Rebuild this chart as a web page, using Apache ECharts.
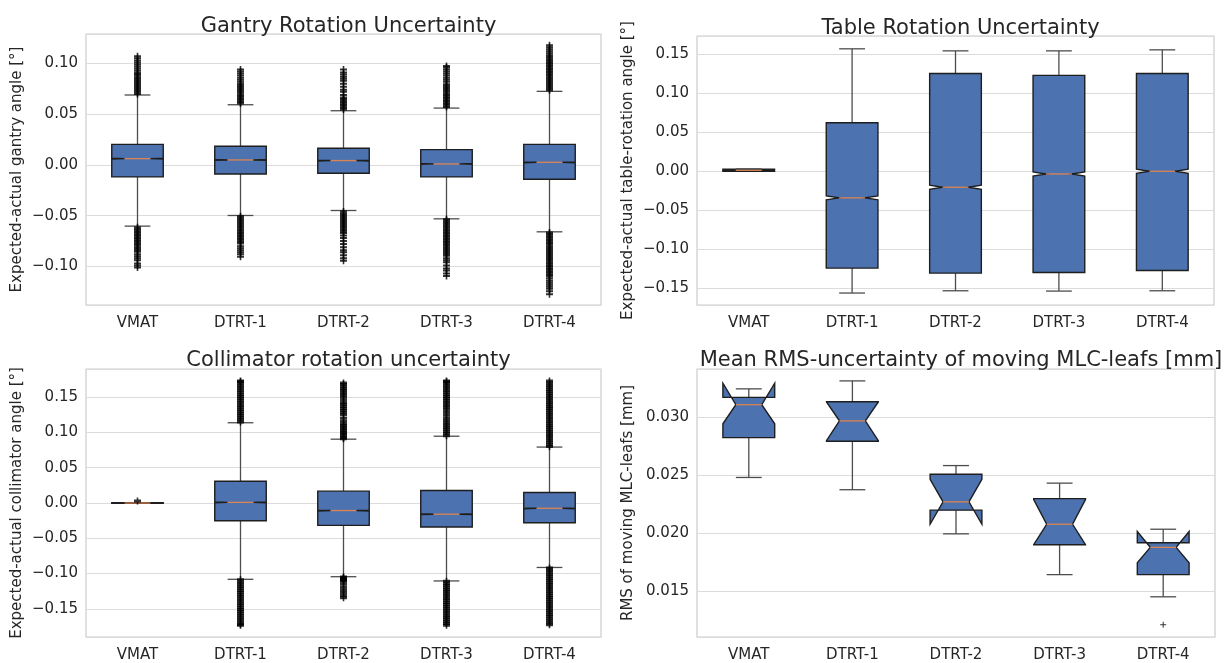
<!DOCTYPE html>
<html>
<head>
<meta charset="utf-8">
<script src="https://cdn.jsdelivr.net/npm/echarts@6.0.0/dist/echarts.min.js"></script>
<style>
  html, body { margin: 0; padding: 0; background: #fff; }
  #box { width: 1230px; height: 663px; }
</style>
</head>
<body>
<div id="box"></div>
<script>
// categories shared by the four panels
const categories = ['VMAT', 'DTRT-1', 'DTRT-2', 'DTRT-3', 'DTRT-4'];

// gantry rotation: whisker low, q1, median, q3, whisker high, notch low/high
const gantryLow = [-0.0603, -0.0498, -0.0449, -0.0531, -0.0659];
const gantryQ1 = [-0.0118, -0.0089, -0.0082, -0.0118, -0.0141];
const gantryMed = [0.0062, 0.0049, 0.0043, 0.0010, 0.0026];
const gantryQ3 = [0.0203, 0.0184, 0.0164, 0.0151, 0.0203];
const gantryHigh = [0.0689, 0.0593, 0.0534, 0.0560, 0.0725];
const gantryCiLo = [0.0058, 0.0045, 0.0039, 0.0006, 0.0022];
const gantryCiHi = [0.0066, 0.0053, 0.0047, 0.0014, 0.0030];
const gantryFliers = [
  [0.070, 0.0715, 0.073, 0.0745, 0.076, 0.0775, 0.079, 0.0805, 0.082, 0.0835, 0.085, 0.0865, 0.088, 0.0895, 0.091,
   0.093, 0.095, 0.097, 0.099, 0.101, 0.103, 0.105, 0.107,
   -0.0615, -0.063, -0.0645, -0.066, -0.0675, -0.069, -0.0705, -0.072, -0.0735, -0.075, -0.0765, -0.078, -0.0795, -0.081, -0.0825, -0.084, -0.0855,
   -0.088, -0.090, -0.092, -0.094, -0.097, -0.099, -0.101],
  [0.0605, 0.062, 0.0635, 0.065, 0.0665, 0.068, 0.0695, 0.071, 0.0725, 0.074, 0.0755, 0.077, 0.0785, 0.080,
   0.082, 0.084, 0.086, 0.088, 0.090, 0.092, 0.094,
   -0.0505, -0.052, -0.0535, -0.055, -0.0565, -0.058, -0.0595, -0.061, -0.0625, -0.064, -0.0655, -0.067, -0.0685, -0.070, -0.0715, -0.073, -0.0745, -0.076, -0.0775,
   -0.080, -0.082, -0.084, -0.086, -0.088, -0.0905],
  [0.0545, 0.056, 0.0575, 0.059, 0.0605, 0.062, 0.0635, 0.065, 0.0665,
   0.069, 0.072, 0.074, 0.077, 0.080, 0.083, 0.085, 0.087, 0.089, 0.091, 0.094,
   -0.046, -0.0475, -0.049, -0.0505, -0.052, -0.0535, -0.055, -0.0565, -0.058, -0.0595, -0.061, -0.0625, -0.064, -0.0655, -0.067,
   -0.0695, -0.072, -0.075, -0.078, -0.081, -0.084, -0.086, -0.089, -0.092, -0.0945],
  [0.057, 0.0585, 0.060, 0.0615, 0.063, 0.0645, 0.066, 0.0675, 0.069, 0.0705, 0.072, 0.0735, 0.075, 0.0765, 0.078, 0.0795,
   0.082, 0.084, 0.086, 0.088, 0.090, 0.092, 0.094, 0.096, 0.0975,
   -0.0535, -0.055, -0.0565, -0.058, -0.0595, -0.061, -0.0625, -0.064, -0.0655, -0.067, -0.0685, -0.070, -0.0715, -0.073, -0.0745,
   -0.076, -0.0775, -0.079, -0.0805, -0.082, -0.0835, -0.085, -0.0865, -0.088, -0.0895,
   -0.092, -0.094, -0.096, -0.099, -0.102, -0.104, -0.107, -0.1095],
  [0.0735, 0.075, 0.0765, 0.078, 0.0795, 0.081, 0.0825, 0.084, 0.0855, 0.087, 0.0885, 0.090, 0.0915, 0.093, 0.0945, 0.096,
   0.0975, 0.099, 0.1005, 0.102, 0.1035, 0.105, 0.1065, 0.108,
   0.110, 0.112, 0.114, 0.116, 0.118,
   -0.0665, -0.068, -0.0695, -0.071, -0.0725, -0.074, -0.0755, -0.077, -0.0785, -0.080, -0.0815, -0.083, -0.0845, -0.086, -0.0875,
   -0.089, -0.0905, -0.092, -0.0935, -0.095, -0.0965, -0.098, -0.0995, -0.101, -0.1025, -0.104, -0.1055, -0.107, -0.1085, -0.110,
   -0.112, -0.114, -0.116, -0.118, -0.120, -0.122, -0.1245, -0.1275]
];

// table rotation
const tableLow = [0.0000, -0.1557, -0.1528, -0.1532, -0.1528];
const tableQ1 = [0.0000, -0.1238, -0.1302, -0.1294, -0.1268];
const tableMed = [0.0013, -0.0340, -0.0204, -0.0034, 0.0000];
const tableQ3 = [0.0028, 0.0621, 0.1251, 0.1226, 0.1251];
const tableHigh = [0.0028, 0.1566, 0.1540, 0.1540, 0.1553];
const tableCiLo = [0.0011, -0.0365, -0.0230, -0.0060, -0.0026];
const tableCiHi = [0.0015, -0.0315, -0.0178, -0.0008, 0.0026];

// collimator rotation
const collLow = [-0.0005, -0.1082, -0.1045, -0.1105, -0.0914];
const collQ1 = [-0.0005, -0.0252, -0.0317, -0.0340, -0.0280];
const collMed = [0.0000, 0.0009, -0.0107, -0.0159, -0.0075];
const collQ3 = [0.0005, 0.0308, 0.0168, 0.0177, 0.0149];
const collHigh = [0.0005, 0.1138, 0.0905, 0.0947, 0.0793];
const collCiLo = [-0.0003, 0.0003, -0.0113, -0.0165, -0.0081];
const collCiHi = [0.0003, 0.0015, -0.0101, -0.0153, -0.0069];
const collFliers = [
  [0.0028],
  [0.115, 0.118, 0.121, 0.124, 0.127, 0.130, 0.133, 0.136, 0.139, 0.142, 0.145, 0.148, 0.151, 0.154, 0.157, 0.160, 0.163, 0.166, 0.169, 0.172, 0.173,
   -0.109, -0.112, -0.115, -0.118, -0.121, -0.124, -0.127, -0.130, -0.133, -0.136, -0.139, -0.142, -0.145, -0.148, -0.151, -0.154,
   -0.157, -0.160, -0.163, -0.166, -0.169, -0.172, -0.1735],
  [0.091, 0.093, 0.0955, 0.098, 0.100, 0.1025, 0.105, 0.1075, 0.110, 0.1125, 0.116, 0.120,
   0.125, 0.128, 0.131, 0.134, 0.137, 0.140, 0.142, 0.146, 0.150, 0.153, 0.156, 0.159, 0.162, 0.165, 0.168, 0.170,
   -0.105, -0.1065, -0.108, -0.1095, -0.111, -0.115, -0.119, -0.123, -0.127, -0.131, -0.1345],
  [0.0955, 0.0985, 0.1015, 0.1045, 0.1075, 0.1105, 0.1135, 0.117, 0.121, 0.125, 0.129, 0.133, 0.136, 0.139, 0.142, 0.145,
   0.148, 0.151, 0.154, 0.157, 0.160, 0.163, 0.166, 0.169, 0.172, 0.173,
   -0.111, -0.114, -0.117, -0.120, -0.123, -0.126, -0.129, -0.132, -0.135, -0.138, -0.141, -0.144, -0.147, -0.150, -0.153,
   -0.156, -0.159, -0.162, -0.165, -0.168, -0.171, -0.1735],
  [0.080, 0.083, 0.086, 0.089, 0.092, 0.095, 0.098, 0.101, 0.104, 0.107, 0.110, 0.113, 0.116, 0.119, 0.122, 0.125,
   0.128, 0.131, 0.134, 0.137, 0.140, 0.143, 0.146, 0.149, 0.152, 0.155, 0.158, 0.161, 0.164, 0.167, 0.170, 0.173,
   -0.092, -0.095, -0.098, -0.101, -0.104, -0.107, -0.110, -0.113, -0.116, -0.119, -0.122, -0.125, -0.128, -0.131,
   -0.134, -0.137, -0.140, -0.143, -0.146, -0.149, -0.152, -0.155, -0.158, -0.161, -0.164, -0.167, -0.170, -0.1726]
];

// MLC leafs mean RMS
const mlcLow = [0.02481, 0.02375, 0.01993, 0.01640, 0.01448];
const mlcQ1 = [0.02826, 0.02795, 0.02198, 0.01899, 0.01640];
const mlcMed = [0.03111, 0.02971, 0.02270, 0.02076, 0.01876];
const mlcQ3 = [0.03174, 0.03137, 0.02509, 0.02298, 0.01916];
const mlcHigh = [0.03248, 0.03317, 0.02584, 0.02432, 0.02033];
const mlcCiLo = [0.02946, 0.02800, 0.02076, 0.01900, 0.01742];
const mlcCiHi = [0.03297, 0.03135, 0.02464, 0.02290, 0.02013];
const mlcFliers = [[], [], [], [], [0.01206]];

const font = 'DejaVu Sans';
const textColor = '#262626';
const boxColor = '#4c72b0';
const medianColor = '#dd8452';

function boxData(low, q1, med, q3, high, ciLo, ciHi) {
  return categories.map(function (c, i) {
    return [i, low[i], q1[i], med[i], q3[i], high[i], ciLo[i], ciHi[i]];
  });
}

function flierData(fliers) {
  let out = [];
  fliers.forEach(function (list, i) {
    list.forEach(function (v) { out.push([i, v]); });
  });
  return out;
}

// notched box like matplotlib: narrows to half width at the median
function renderBox(params, api) {
  let i = api.value(0);
  let y = function (v) { return api.coord([i, v])[1]; };
  let cx = api.coord([i, api.value(3)])[0];
  let w = api.size([1, 0])[0] * 0.5;
  let L = cx - w / 2, R = cx + w / 2, nl = cx - w / 4, nr = cx + w / 4;
  let low = y(api.value(1)), q1 = y(api.value(2)), med = y(api.value(3));
  let q3 = y(api.value(4)), high = y(api.value(5));
  let ciLo = y(api.value(6)), ciHi = y(api.value(7));
  let wStyle = { stroke: '#4d4d4d', lineWidth: 1.3 };
  return {
    type: 'group',
    children: [
      { type: 'line', shape: { x1: cx, y1: q3, x2: cx, y2: high }, style: wStyle },
      { type: 'line', shape: { x1: cx, y1: q1, x2: cx, y2: low }, style: wStyle },
      { type: 'line', shape: { x1: nl, y1: high, x2: nr, y2: high }, style: wStyle },
      { type: 'line', shape: { x1: nl, y1: low, x2: nr, y2: low }, style: wStyle },
      {
        type: 'polygon',
        shape: {
          points: [[L, q1], [R, q1], [R, ciLo], [nr, med], [R, ciHi], [R, q3],
                   [L, q3], [L, ciHi], [nl, med], [L, ciLo]]
        },
        style: { fill: boxColor, stroke: '#1e1e1e', lineWidth: 1.4 }
      },
      { type: 'line', shape: { x1: nl, y1: med, x2: nr, y2: med }, style: { stroke: medianColor, lineWidth: 1.3 } }
    ]
  };
}

function tickFmt(d) {
  return function (v) { return (v < 0 ? '\u2212' : '') + Math.abs(v).toFixed(d); };
}

// plus markers; the thicker cross bar lets dense fliers merge into a column
const plusThin = 'path://M2.5,0H3.5V6H2.5Z M0,2.5H6V3.5H0Z';
const plusSymbol = 'path://M2.7,0H4.3V7H2.7Z M0,2.5H7V4.5H0Z';
const plusDense = 'path://M2.7,0H4.3V7H2.7Z M0,2H7V5H0Z';

const grids = [
  { left: 86, top: 34, width: 515, height: 271 },
  { left: 697, top: 36, width: 517, height: 269 },
  { left: 86, top: 369, width: 515, height: 271 },
  { left: 697, top: 369, width: 518, height: 271 }
];
const titles = ['Gantry Rotation Uncertainty', 'Table Rotation Uncertainty',
  'Collimator rotation uncertainty', 'Mean RMS-uncertainty of moving MLC-leafs [mm]'];
const yNames = ['Expected-actual gantry angle [°]', 'Expected-actual table-rotation angle [°]',
  'Expected-actual collimator angle [°]', 'RMS of moving MLC-leafs [mm]'];
const yRanges = [[-0.138, 0.129], [-0.171, 0.173], [-0.190, 0.190], [0.0110, 0.0342]];
const ySplits = [5, 7, 7, 5];
const yDigits = [2, 2, 2, 3];
const titleTops = [11, 13, 345, 345];

let chart = echarts.init(document.getElementById('box'));

let option = {
  backgroundColor: '#ffffff',
  animation: false,
  title: titles.map(function (t, k) {
    return {
      text: t,
      left: grids[k].left + grids[k].width / 2,
      top: titleTops[k],
      textAlign: 'center',
      textStyle: { fontFamily: font, fontSize: 21, fontWeight: 'normal', color: textColor }
    };
  }),
  grid: grids.map(function (g) {
    return Object.assign({ show: true, borderColor: '#cccccc', borderWidth: 1.2, containLabel: false }, g);
  }),
  xAxis: grids.map(function (g, k) {
    return {
      type: 'category',
      gridIndex: k,
      data: categories,
      axisLine: { show: false },
      axisTick: { show: false },
      splitLine: { show: false },
      axisLabel: { fontFamily: font, fontSize: 15, color: textColor, margin: 11 }
    };
  }),
  yAxis: grids.map(function (g, k) {
    return {
      type: 'value',
      gridIndex: k,
      min: yRanges[k][0],
      max: yRanges[k][1],
      splitNumber: ySplits[k],
      name: yNames[k],
      nameLocation: 'middle',
      nameGap: 61,
      nameTextStyle: { fontFamily: font, fontSize: 15, color: textColor },
      axisLine: { show: false },
      axisTick: { show: false },
      splitLine: { lineStyle: { color: '#dcdcdc', width: 1.2 } },
      axisLabel: {
        fontFamily: font, fontSize: 15, color: textColor, margin: 8,
        showMinLabel: false, showMaxLabel: false,
        formatter: tickFmt(yDigits[k])
      }
    };
  }),
  series: [
    { type: 'custom', xAxisIndex: 0, yAxisIndex: 0, renderItem: renderBox,
      data: boxData(gantryLow, gantryQ1, gantryMed, gantryQ3, gantryHigh, gantryCiLo, gantryCiHi) },
    { type: 'custom', xAxisIndex: 1, yAxisIndex: 1, renderItem: renderBox,
      data: boxData(tableLow, tableQ1, tableMed, tableQ3, tableHigh, tableCiLo, tableCiHi) },
    { type: 'custom', xAxisIndex: 2, yAxisIndex: 2, renderItem: renderBox,
      data: boxData(collLow, collQ1, collMed, collQ3, collHigh, collCiLo, collCiHi) },
    { type: 'custom', xAxisIndex: 3, yAxisIndex: 3, renderItem: renderBox,
      data: boxData(mlcLow, mlcQ1, mlcMed, mlcQ3, mlcHigh, mlcCiLo, mlcCiHi) },
    { type: 'scatter', xAxisIndex: 0, yAxisIndex: 0, symbol: plusSymbol, symbolSize: 7, z: 5,
      itemStyle: { color: '#000000' }, silent: true, data: flierData(gantryFliers) },
    { type: 'scatter', xAxisIndex: 2, yAxisIndex: 2, symbol: plusDense, symbolSize: 7, z: 5,
      itemStyle: { color: '#000000' }, silent: true, data: flierData(collFliers) },
    { type: 'scatter', xAxisIndex: 3, yAxisIndex: 3, symbol: plusThin, symbolSize: 6, z: 5,
      itemStyle: { color: '#000000' }, silent: true, data: flierData(mlcFliers) }
  ]
};

chart.setOption(option);
</script>
</body>
</html>
